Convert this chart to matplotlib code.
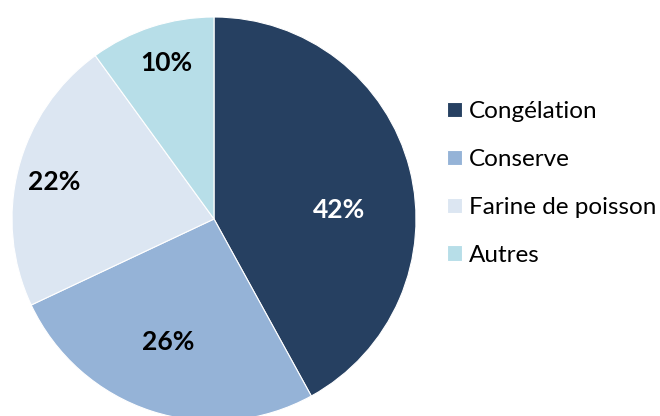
import numpy as np
import matplotlib.pyplot as plt

categories = ['Congélation', 'Conserve', 'Farine de poisson', 'Autres']
shares = [42, 26, 22, 10]
colors = ['#264061', '#95B3D7', '#DCE6F2', '#B7DEE8']
label_colors = ['white', 'black', 'black', 'black']
# label placement (radius as fraction, angle nudge in degrees), like Excel's best fit
label_radius = [0.62, 0.65, 0.81, 0.81]
label_nudge = [-10.5, -2.5, 1.4, -1.0]

plt.rcParams['font.family'] = ['Lato', 'DejaVu Sans']

fig = plt.figure(figsize=(6.6, 4.16), dpi=100)
ax = fig.add_axes([12 / 660, -5 / 416, 404 / 660, 404 / 416])

wedges, texts, autotexts = ax.pie(shares, colors=colors, startangle=90, counterclock=False,
                                  autopct='%d%%', radius=1,
                                  wedgeprops=dict(edgecolor='white', linewidth=0.8))
ax.set_xlim(-1, 1)
ax.set_ylim(-1, 1)
ax.set_aspect('equal')

for w, t, c, r, d in zip(wedges, autotexts, label_colors, label_radius, label_nudge):
    ang = np.deg2rad((w.theta1 + w.theta2) / 2 + d)
    t.set_position((r * np.cos(ang), r * np.sin(ang)))
    t.set_color(c)
    t.set_fontsize(19)
    t.set_fontweight('bold')

fig.legend(wedges, categories, loc='center left', bbox_to_anchor=(447 / 660, 0.559),
           frameon=False, fontsize=17.5, handlelength=0.62, handleheight=0.62,
           handletextpad=0.3, labelspacing=1.11, borderpad=0, borderaxespad=0)

plt.savefig('out.png', dpi=100)
